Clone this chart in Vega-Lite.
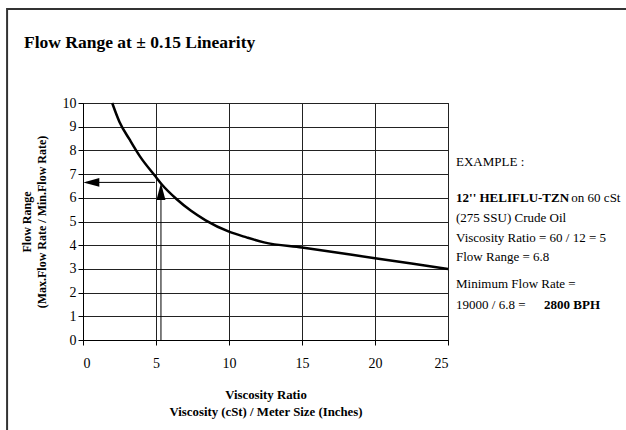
{
  "$schema": "https://vega.github.io/schema/vega-lite/v6.json",
  "width": 365,
  "height": 237,
  "autosize": {"type": "none"},
  "padding": {"left": 83, "top": 103, "right": 178, "bottom": 90},
  "background": "white",
  "title": {
    "text": "Flow Range at ± 0.15 Linearity",
    "anchor": "start",
    "frame": "group",
    "font": "Liberation Serif",
    "fontSize": 17.5,
    "fontWeight": "bold",
    "color": "black",
    "dx": -59,
    "offset": 0,
    "dy": 44
  },
  "config": {
    "font": "Liberation Serif",
    "view": {"stroke": "black", "strokeWidth": 1},
    "axis": {
      "domainColor": "black",
      "tickColor": "black",
      "gridColor": "#222",
      "gridOpacity": 1,
      "labelFont": "Liberation Serif",
      "labelFontSize": 14,
      "labelColor": "black",
      "titleFont": "Liberation Serif",
      "titleFontWeight": "bold",
      "titleColor": "black",
      "tickSize": 5
    }
  },
  "datasets": {
    "curve": [
      {"vr": 2.0, "fr": 10.0},
      {"vr": 2.5, "fr": 9.2},
      {"vr": 3.2, "fr": 8.45},
      {"vr": 3.9, "fr": 7.75},
      {"vr": 4.9, "fr": 6.95},
      {"vr": 5.4, "fr": 6.56},
      {"vr": 6.4, "fr": 5.95},
      {"vr": 7.4, "fr": 5.45},
      {"vr": 8.4, "fr": 5.05},
      {"vr": 10.0, "fr": 4.57},
      {"vr": 11.2, "fr": 4.33},
      {"vr": 12.4, "fr": 4.12},
      {"vr": 15.0, "fr": 3.9},
      {"vr": 20.0, "fr": 3.45},
      {"vr": 25.0, "fr": 3.0}
    ],
    "rules": [
      {"x1": 0.2, "x2": 4.93, "y1": 6.65, "y2": 6.65},
      {"x1": 5.34, "x2": 5.34, "y1": 0, "y2": 5.95}
    ],
    "heads": [
      {"x": 0.57, "y": 6.65, "dir": "left"},
      {"x": 5.34, "y": 6.27, "dir": "up"}
    ],
    "notes": [
      {"x": 25.55, "y": 7.51, "t": "EXAMPLE :"},
      {"x": 33.45, "y": 5.99, "t": "on 60 cSt"},
      {"x": 25.55, "y": 5.15, "t": "(275 SSU) Crude Oil"},
      {"x": 25.55, "y": 4.32, "t": "Viscosity Ratio = 60 / 12 = 5"},
      {"x": 25.55, "y": 3.5, "t": "Flow Range = 6.8"},
      {"x": 25.55, "y": 2.36, "t": "Minimum Flow Rate ="},
      {"x": 25.55, "y": 1.48, "t": "19000 / 6.8 = "}
    ],
    "boldnotes": [
      {"x": 25.55, "y": 5.99, "t": "12'' HELIFLU-TZN"},
      {"x": 31.58, "y": 1.48, "t": "2800 BPH"}
    ],
    "frame": [
      {"x1": -5.2, "x2": 45, "y1": 13.97, "y2": -6}
    ]
  },
  "layer": [
    {
      "data": {"name": "curve"},
      "mark": {"type": "line", "color": "black", "strokeWidth": 2.5, "interpolate": "monotone"},
      "encoding": {
        "x": {
          "field": "vr", "type": "quantitative",
          "scale": {"domain": [0, 25], "nice": false},
          "axis": {
            "values": [0, 5, 10, 15, 20, 25],
            "tickCount": 6,
            "grid": true,
            "labelPadding": 11,
            "title": ["Viscosity Ratio", "Viscosity (cSt) / Meter Size (Inches)"],
            "titleFontSize": 12.8,
            "titleLineHeight": 17,
            "titlePadding": 18
          }
        },
        "y": {
          "field": "fr", "type": "quantitative",
          "scale": {"domain": [0, 10], "nice": false},
          "axis": {
            "values": [0, 1, 2, 3, 4, 5, 6, 7, 8, 9, 10],
            "tickCount": 11,
            "grid": true,
            "labelOverlap": false,
            "labelPadding": 2,
            "title": ["Flow Range", "(Max.Flow Rate / Min.Flow Rate)"],
            "titleFontSize": 12,
            "titleLineHeight": 15,
            "titlePadding": 14
          }
        }
      }
    },
    {
      "data": {"name": "frame"},
      "mark": {"type": "rect", "fill": null, "stroke": "#333", "strokeWidth": 2},
      "encoding": {
        "x": {"field": "x1", "type": "quantitative"},
        "x2": {"field": "x2"},
        "y": {"field": "y1", "type": "quantitative"},
        "y2": {"field": "y2"}
      }
    },
    {
      "data": {"name": "rules"},
      "mark": {"type": "rule", "color": "black", "strokeWidth": 1},
      "encoding": {
        "x": {"field": "x1", "type": "quantitative"},
        "x2": {"field": "x2"},
        "y": {"field": "y1", "type": "quantitative"},
        "y2": {"field": "y2"}
      }
    },
    {
      "data": {"name": "heads"},
      "transform": [{"filter": "datum.dir === 'left'"}],
      "mark": {"type": "point", "filled": true, "color": "black", "opacity": 1, "size": 256, "shape": "M-1,0L1,-0.56L1,0.56Z"},
      "encoding": {
        "x": {"field": "x", "type": "quantitative"},
        "y": {"field": "y", "type": "quantitative"}
      }
    },
    {
      "data": {"name": "heads"},
      "transform": [{"filter": "datum.dir === 'up'"}],
      "mark": {"type": "point", "filled": true, "color": "black", "opacity": 1, "size": 289, "shape": "M0,-1L0.53,1L-0.53,1Z"},
      "encoding": {
        "x": {"field": "x", "type": "quantitative"},
        "y": {"field": "y", "type": "quantitative"}
      }
    },
    {
      "data": {"name": "notes"},
      "mark": {"type": "text", "align": "left", "baseline": "middle", "font": "Liberation Serif", "fontSize": 13, "color": "black"},
      "encoding": {
        "x": {"field": "x", "type": "quantitative"},
        "y": {"field": "y", "type": "quantitative"},
        "text": {"field": "t"}
      }
    },
    {
      "data": {"name": "boldnotes"},
      "mark": {"type": "text", "align": "left", "baseline": "middle", "font": "Liberation Serif", "fontSize": 13, "fontWeight": "bold", "color": "black"},
      "encoding": {
        "x": {"field": "x", "type": "quantitative"},
        "y": {"field": "y", "type": "quantitative"},
        "text": {"field": "t"}
      }
    }
  ]
}
